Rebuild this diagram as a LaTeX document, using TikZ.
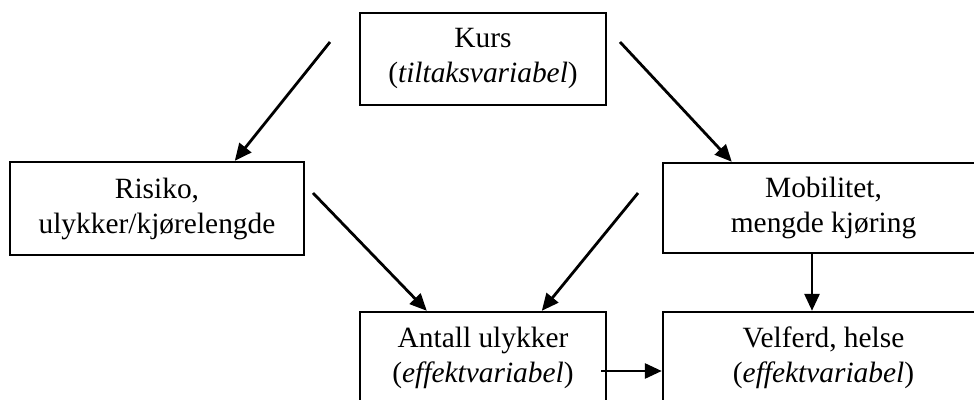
\documentclass[tikz,border=0pt]{standalone}
\usepackage{fontspec}
\setmainfont{Liberation Serif}
\usetikzlibrary{arrows.meta}
\begin{document}
\begin{tikzpicture}[x=1pt,y=-1pt,
  box/.style={draw, line width=2.4pt, rectangle, align=center, inner sep=0pt,
    font=\fontsize{29.4}{35}\selectfont},
  link/.style={line width=2.8pt, -{Triangle[length=17pt,width=15pt]}}]
\useasboundingbox (0,0) rectangle (974,399);
\clip (0,0) rectangle (974,399);
% variables
\node[box, minimum width=246pt, minimum height=92pt] (kurs) at (483,59)
  {Kurs\\(\textit{tiltaksvariabel})};
\node[box, minimum width=294pt, minimum height=93pt] (risiko) at (157,208.5)
  {Risiko,\\ulykker/kjørelengde};
\node[box, minimum width=321pt, minimum height=90pt] (mob) at (823.5,208)
  {Mobilitet,\\mengde kjøring};
\node[box, minimum width=246pt, minimum height=92pt] (antall) at (483,358)
  {Antall ulykker\\(\textit{effektvariabel})};
\node[box, minimum width=321pt, minimum height=92pt] (velf) at (823.5,358)
  {Velferd, helse\\(\textit{effektvariabel})};
% free starting points of the arrows
\coordinate (s1) at (330,42);
\coordinate (s2) at (620,42);
\coordinate (s3) at (313,193);
\coordinate (s4) at (638,193);
\coordinate (s5) at (601,371);
% effects
\draw[link] (s1) -- ([xshift=226pt]risiko.north west);
\draw[link] (s2) -- ([xshift=70pt]mob.north west);
\draw[link] (s3) -- ([xshift=68pt]antall.north west);
\draw[link] (s4) -- ([xshift=183pt]antall.north west);
\draw[link] (s5) -- (s5 -| velf.west);
\draw[link] (mob.south -| 812,0) -- (velf.north -| 812,0);
\end{tikzpicture}
\end{document}
